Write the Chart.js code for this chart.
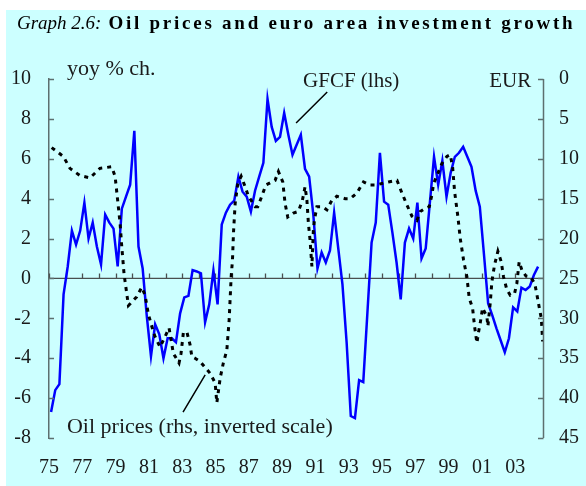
<!DOCTYPE html>
<html><head><meta charset="utf-8">
<script src="https://cdn.jsdelivr.net/npm/chart.js@4.4.0/dist/chart.umd.min.js"></script>
<style>
html,body{margin:0;padding:0;background:#fff;}
#wrap{position:relative;width:586px;height:486px;}
canvas{position:absolute;left:0;top:0;}
#title{position:absolute;left:17px;top:12px;font-family:"Liberation Serif",serif;font-size:19px;color:#000;white-space:nowrap;}
#title i{font-style:italic;}
#title b{letter-spacing:2.75px;margin-left:7px;}
</style></head><body>
<div id="wrap"><canvas id="c" width="586" height="486"></canvas>
<div id="title"><i>Graph 2.6:</i><b>Oil prices and euro area investment growth</b></div></div>
<script>
// ---- data ----
const gfcfStartYear = 1975; // quarterly, from 1975 Q1
const gfcfValues = [-6.7,-5.6,-5.3,-0.8,0.6,2.4,1.7,2.4,3.8,2.0,
 2.8,1.6,0.7,3.2,2.8,2.5,0.6,3.5,4.1,4.7,
 7.4,1.6,0.5,-1.9,-3.9,-2.3,-2.8,-4.0,-3.0,-3.0,
 -3.2,-1.75,-0.95,-0.87,0.42,0.35,0.26,-2.2,-1.3,0.4,
 -1.3,2.7,3.3,3.7,3.9,5.1,4.35,4.1,3.35,4.4,
 5.1,5.8,9.0,7.6,6.9,7.1,8.3,7.2,6.2,6.7,
 7.2,5.5,5.1,3.2,0.5,1.3,0.8,1.4,3.3,1.5,
 -0.3,-3.2,-6.9,-7.0,-5.1,-5.2,-1.7,1.8,2.8,6.3,
 3.85,3.7,2.3,0.8,-1.05,1.8,2.5,2.0,3.8,1.0,
 1.5,3.8,6.1,4.7,5.9,4.1,5.3,6.1,6.3,6.6,
 6.1,5.6,4.4,3.6,1.2,-1.25,-1.85,-2.5,-3.1,-3.7,
 -3.0,-1.45,-1.65,-0.46,-0.58,-0.4,0.17,0.59];
const oilDates = [1975.16,1975.86,1976.26,1976.86,1977.46,1978.06,1978.77,1978.97,1979.27,1979.37,
 1979.51,1979.77,1980.27,1980.57,1980.77,1980.97,1981.27,1981.37,1981.67,1981.97,
 1982.21,1982.47,1982.81,1982.93,1983.07,1983.28,1983.47,1983.58,1983.77,1984.07,
 1984.68,1984.98,1985.08,1985.28,1985.47,1985.68,1985.82,1985.94,1986.02,1986.08,
 1986.18,1986.34,1986.54,1986.78,1986.98,1987.38,1987.54,1987.78,1988.02,1988.58,
 1988.78,1989.04,1989.18,1989.34,1989.68,1989.98,1990.22,1990.38,1990.49,1990.58,
 1990.68,1990.79,1990.88,1990.94,1991.09,1991.39,1991.69,1991.99,1992.29,1992.79,
 1993.09,1993.49,1993.89,1994.29,1994.59,1994.99,1995.39,1995.90,1996.20,1996.50,
 1996.80,1997.10,1997.30,1997.60,1997.84,1998.00,1998.10,1998.36,1998.60,1998.90,
 1999.10,1999.24,1999.36,1999.56,1999.70,1999.90,2000.10,2000.24,2000.44,2000.56,
 2000.70,2000.80,2000.90,2001.04,2001.30,2001.36,2001.50,2001.60,2001.76,2001.96,
 2002.16,2002.30,2002.50,2002.70,2002.96,2003.10,2003.24,2003.41,2003.65,2003.91,
 2004.17,2004.31,2004.45,2004.57,2004.65];
const oilValues = [8.6,9.7,11.2,12.1,12.4,11.2,11.0,12.2,18.1,21.0,
 24.5,28.4,27.3,26.1,27.1,29.5,31.7,32.3,33.6,32.3,
 31.2,34.4,35.6,34.4,31.8,31.7,33.3,34.8,35.0,35.4,
 36.9,38.1,40.6,37.5,35.6,34.0,30.2,24.8,22.7,19.3,
 15.6,13.1,12.2,13.5,14.7,16.0,16.0,14.7,13.3,12.7,
 11.6,12.9,15.6,17.3,16.8,16.6,15.2,13.5,15.2,18.1,
 20.2,23.5,18.9,17.7,16.0,16.0,16.4,15.2,14.7,15.0,
 15.0,14.3,12.9,13.3,13.3,13.1,12.9,12.7,14.3,15.8,
 17.2,17.7,16.6,16.2,16.0,14.5,13.1,11.8,10.6,9.7,
 9.5,11.0,14.1,17.3,20.0,22.7,24.8,27.5,28.7,31.0,
 33.1,31.7,30.6,28.7,29.8,31.0,28.1,25.4,23.3,21.6,
 22.9,24.8,26.4,27.1,26.9,25.6,22.9,24.0,24.7,24.8,
 25.6,27.1,28.7,30.0,32.9];
const xTickLabels = ['75','77','79','81','83','85','87','89','91','93','95','97','99','01','03'];
const leftTicks = {min:-8, max:10, step:2};
const rightTicks = {min:0, max:45, step:5};

// ---- styles ----
const FONT = '"Liberation Serif", "Times New Roman", serif';
const AXIS = '#5d6f6f';
const TXT = '#1a1a1a';
Chart.defaults.font.family = FONT;

const gfcfData = gfcfValues.map((v,i)=>({x: gfcfStartYear + (i+0.5)/4, y: v}));
const oilData = oilDates.map((d,i)=>({x: d, y: oilValues[i]}));

const deco = {
  id:'deco',
  beforeDraw(chart){
    const ctx = chart.ctx;
    ctx.save();
    ctx.fillStyle = '#ffffff';
    ctx.fillRect(0,0,chart.width,chart.height);
    ctx.fillStyle = '#ccffff';
    ctx.fillRect(6,10,chart.width-6,chart.height-10);
    ctx.restore();
  },
  beforeDatasetsDraw(chart){
    const {ctx, chartArea:a, scales:{x,y}} = chart;
    const y0 = y.getPixelForValue(0);
    ctx.save();
    ctx.strokeStyle = '#4a4f4f';
    ctx.lineWidth = 1.3;
    ctx.beginPath();
    ctx.moveTo(a.left, y0); ctx.lineTo(a.right, y0);
    for (const t of x.ticks){
      if (!Number.isInteger(t.value)) continue;
      const px = Math.round(x.getPixelForValue(t.value))+0.5;
      ctx.moveTo(px, y0); ctx.lineTo(px, y0-5);
    }
    ctx.stroke();
    ctx.restore();
  },
  afterDraw(chart){
    const {ctx, chartArea:a, scales:{x,y,y2}} = chart;
    ctx.save();
    ctx.strokeStyle = AXIS;
    ctx.lineWidth = 1.5;
    ctx.beginPath();
    ctx.moveTo(a.right+0.5, y2.getPixelForValue(rightTicks.min));
    ctx.lineTo(a.right+0.5, y2.getPixelForValue(rightTicks.max));
    for (const t of y.ticks){ const py = Math.round(y.getPixelForValue(t.value))+0.5; ctx.moveTo(a.left, py); ctx.lineTo(a.left+5, py); }
    for (const t of y2.ticks){ const py = Math.round(y2.getPixelForValue(t.value))+0.5; ctx.moveTo(a.right+0.5, py); ctx.lineTo(a.right-5, py); }
    ctx.stroke();
    ctx.fillStyle = TXT;
    ctx.font = '20px ' + FONT;
    ctx.textAlign = 'left';
    ctx.textBaseline = 'middle';
    for (const t of y2.ticks){ ctx.fillText(String(t.value), a.right + 16, y2.getPixelForValue(t.value)); }
    ctx.textBaseline = 'alphabetic';
    ctx.font = '22px ' + FONT;
    ctx.fillText('yoy % ch.', x.getPixelForValue(1976.08), y.getPixelForValue(10.2));
    ctx.fillText('Oil prices (rhs, inverted scale)', x.getPixelForValue(1976.08), y.getPixelForValue(-7.75));
    ctx.font = '21px ' + FONT;
    ctx.fillText('GFCF (lhs)', x.getPixelForValue(1990.26), y.getPixelForValue(9.6));
    ctx.fillText('EUR', x.getPixelForValue(2001.44), y.getPixelForValue(9.6));
    ctx.strokeStyle = '#000';
    ctx.lineWidth = 1.5;
    ctx.beginPath();
    ctx.moveTo(x.getPixelForValue(1991.71), y.getPixelForValue(9.35));
    ctx.lineTo(x.getPixelForValue(1989.84), y.getPixelForValue(7.79));
    ctx.moveTo(x.getPixelForValue(1984.38), y.getPixelForValue(-4.84));
    ctx.lineTo(x.getPixelForValue(1983.05), y.getPixelForValue(-6.70));
    ctx.stroke();
    ctx.restore();
  }
};

new Chart(document.getElementById('c'), {
  type:'line',
  data:{ datasets:[
    { label:'Oil prices', data: oilData, yAxisID:'y2', borderColor:'#000', borderWidth:3, borderDash:[4,5], pointRadius:0, tension:0, fill:false },
    { label:'GFCF', data: gfcfData, yAxisID:'y', borderColor:'#0000ff', borderWidth:2.5, pointRadius:0, tension:0, fill:false }
  ]},
  options:{
    responsive:false, animation:false, devicePixelRatio:1,
    layout:{ padding:{ top:79, left:0, right:0, bottom:0 } },
    plugins:{ legend:{display:false}, tooltip:{enabled:false}, title:{display:false} },
    scales:{
      x:{ type:'linear', position:'bottom', min:1975, max:2004.67,
          grid:{display:false, drawTicks:false}, border:{display:false},
          ticks:{ stepSize:1, autoSkip:false, maxRotation:0, padding:18, color:TXT, font:{size:20},
                  callback:(v)=>{ if(!Number.isInteger(v)) return ''; const k=(v-1975)/2; return Number.isInteger(k)? xTickLabels[k] : ''; } },
          afterBuildTicks:(s)=>{ s.ticks = s.ticks.filter(t=>Number.isInteger(t.value)); },
          afterFit:(s)=>{ s.height = 48; } },
      y:{ position:'left', min:leftTicks.min, max:leftTicks.max,
          grid:{display:false, drawTicks:false}, border:{display:true, color:AXIS, width:1.5},
          ticks:{ stepSize:leftTicks.step, padding:18, color:TXT, font:{size:20} },
          afterFit:(s)=>{ s.width = 49; } },
      y2:{ position:'right', reverse:true, min:rightTicks.min, max:rightTicks.max,
          grid:{display:false, drawTicks:false}, border:{display:false},
          ticks:{ stepSize:rightTicks.step, display:false },
          afterFit:(s)=>{ s.width = 43; } }
    }
  },
  plugins:[deco]
});
</script></body></html>
